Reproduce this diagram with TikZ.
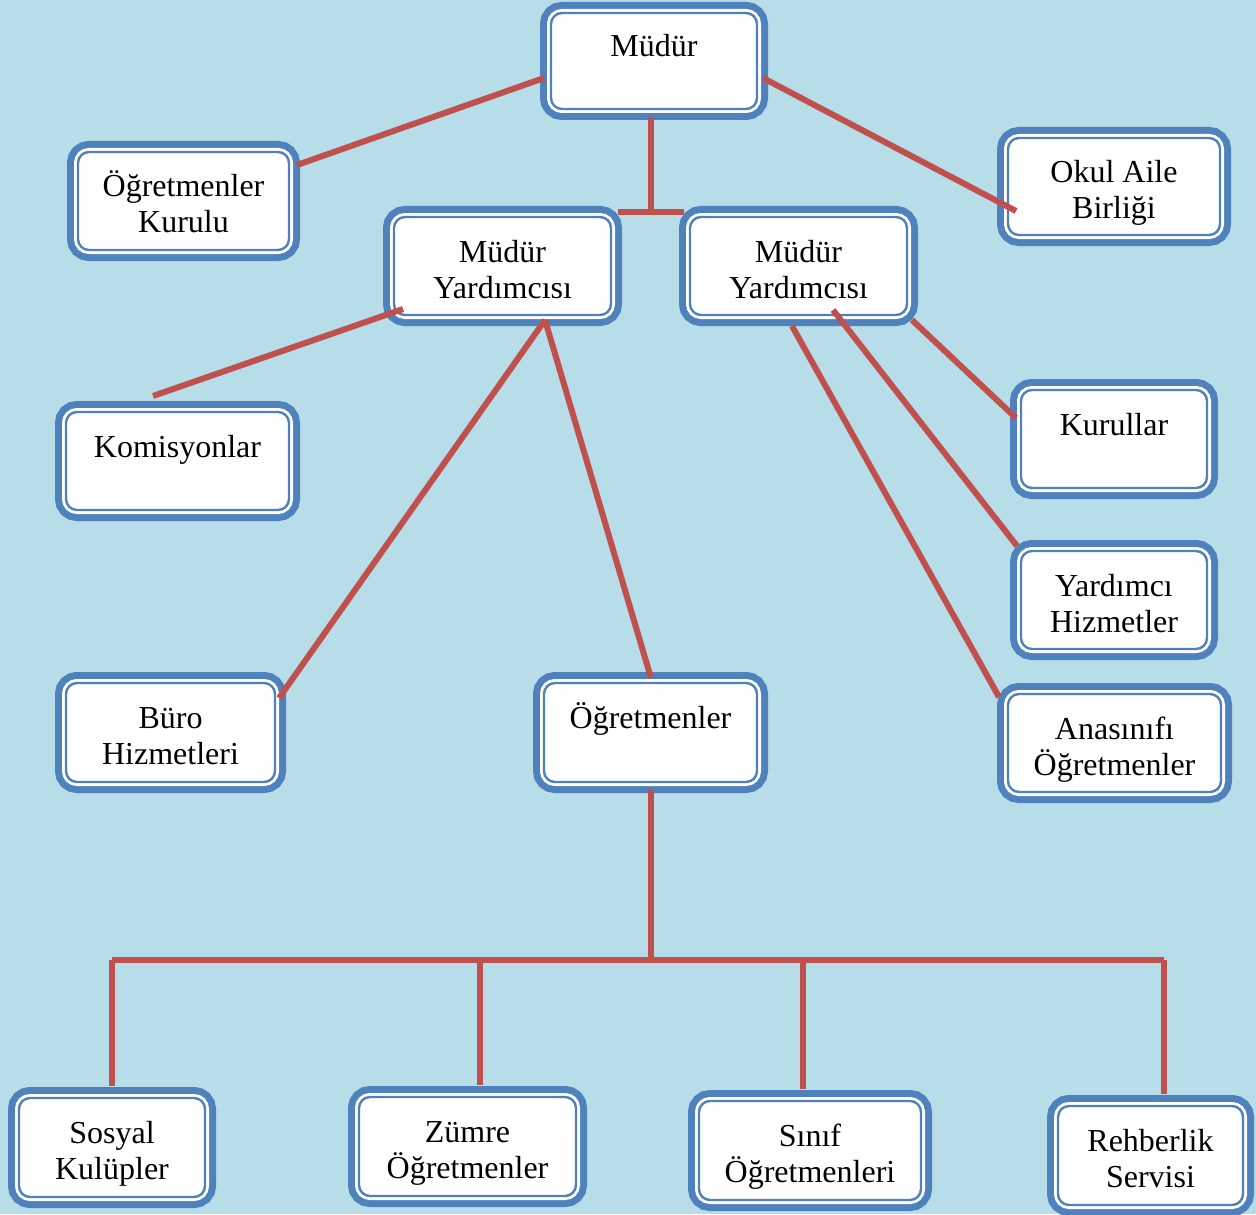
\documentclass[tikz,border=0pt]{standalone}
\usepackage{fontspec}
\setmainfont{Liberation Serif}
\definecolor{bgblue}{RGB}{183,221,232}
\definecolor{boxblue}{RGB}{79,129,189}
\definecolor{linered}{RGB}{192,80,77}
\begin{document}
\begin{tikzpicture}[x=0.5pt,y=-0.5pt,
  orgbox/.style={rectangle, rounded corners=5.5pt, inner sep=0pt, align=center,
    preaction={draw=boxblue, line width=11pt},
    preaction={draw=white, line width=4pt},
    fill=white, draw=boxblue, line width=1.2pt,
    font=\fontsize{16pt}{18pt}\selectfont,
    text height=36pt, text depth=4pt},
  conn/.style={draw=linered, line width=3pt}]
\useasboundingbox (0,0) rectangle (1256,1214);
\fill[bgblue] (0,0) rectangle (1256,1214);

% boxes
\node[orgbox, minimum width=103pt, minimum height=48pt] (mudur) at (654,61) {Müdür\\ \mbox{}};
\node[orgbox, minimum width=105.5pt, minimum height=49pt] (ogkurul) at (183.5,201) {Öğretmenler\\Kurulu};
\node[orgbox, minimum width=108.5pt, minimum height=49pt] (my1) at (502.5,266) {Müdür\\Yardımcısı};
\node[orgbox, minimum width=108.5pt, minimum height=49pt] (my2) at (798.5,266) {Müdür\\Yardımcısı};
\node[orgbox, minimum width=106pt, minimum height=48.5pt] (okul) at (1114,186.5) {Okul Aile\\Birliği};
\node[orgbox, minimum width=111.5pt, minimum height=49pt] (komis) at (177.5,461) {Komisyonlar\\ \mbox{}};
\node[orgbox, minimum width=93pt, minimum height=49pt] (kurullar) at (1114,439) {Kurullar\\ \mbox{}};
\node[orgbox, minimum width=93pt, minimum height=49pt] (yardimci) at (1114,600) {Yardımcı\\Hizmetler};
\node[orgbox, minimum width=104.5pt, minimum height=49.5pt] (buro) at (170.5,732.5) {Büro\\Hizmetleri};
\node[orgbox, minimum width=106.5pt, minimum height=49.5pt] (ogretmen) at (650.5,732.5) {Öğretmenler\\ \mbox{}};
\node[orgbox, minimum width=106.5pt, minimum height=49pt] (anasinif) at (1114.5,743) {Anasınıfı\\Öğretmenler};
\node[orgbox, minimum width=93pt, minimum height=49.5pt] (sosyal) at (112,1147.5) {Sosyal\\Kulüpler};
\node[orgbox, minimum width=108.5pt, minimum height=49.5pt] (zumre) at (467.5,1146.5) {Zümre\\Öğretmenler};
\node[orgbox, minimum width=111pt, minimum height=49.5pt] (sinif) at (810,1150.5) {Sınıf\\Öğretmenleri};
\node[orgbox, minimum width=92.5pt, minimum height=49.5pt] (rehber) at (1150.5,1155.5) {Rehberlik\\Servisi};

% connector end points
\coordinate (mL) at (544,78);
\coordinate (okL) at (297,165);
\coordinate (mR) at (763,78);
\coordinate (oaL) at (1016,211);
\coordinate (mB) at (651,118);
\coordinate (tJ) at (651,212);
\coordinate (tL) at (618,212);
\coordinate (tR) at (684,212);
\coordinate (y1a) at (403,309);
\coordinate (koT) at (153,396);
\coordinate (y1b) at (545,320);
\coordinate (buR) at (279,698);
\coordinate (ogT) at (651,678);
\coordinate (y2a) at (912,320);
\coordinate (kuL) at (1016,418);
\coordinate (y2b) at (833,310);
\coordinate (yaL) at (1017,546);
\coordinate (y2c) at (792,326);
\coordinate (anL) at (999,697);
\coordinate (oB) at (651,790);
\coordinate (bJ) at (651,960);
\coordinate (b1) at (112,960);
\coordinate (b2) at (480,960);
\coordinate (b3) at (803,960);
\coordinate (b4) at (1164,960);

% connectors
\draw[conn] (mL) -- (okL);
\draw[conn] (mR) -- (oaL);
\draw[conn] (mB) -- (tJ);
\draw[conn] (tL) -- (tR);
\draw[conn] (y1a) -- (koT);
\draw[conn] (y1b) -- (buR);
\draw[conn] (y1b) -- (ogT);
\draw[conn] (y2a) -- (kuL);
\draw[conn] (y2b) -- (yaL);
\draw[conn] (y2c) -- (anL);
\draw[conn] (oB) -- (bJ);
\draw[conn] (b1) -- (b4);
\draw[conn] (b1) -- ([yshift=5.5pt]b1 |- sosyal.north);
\draw[conn] (b2) -- ([yshift=5.5pt]b2 |- zumre.north);
\draw[conn] (b3) -- ([yshift=5.5pt]b3 |- sinif.north);
\draw[conn] (b4) -- ([yshift=5.5pt]b4 |- rehber.north);
\end{tikzpicture}
\end{document}
